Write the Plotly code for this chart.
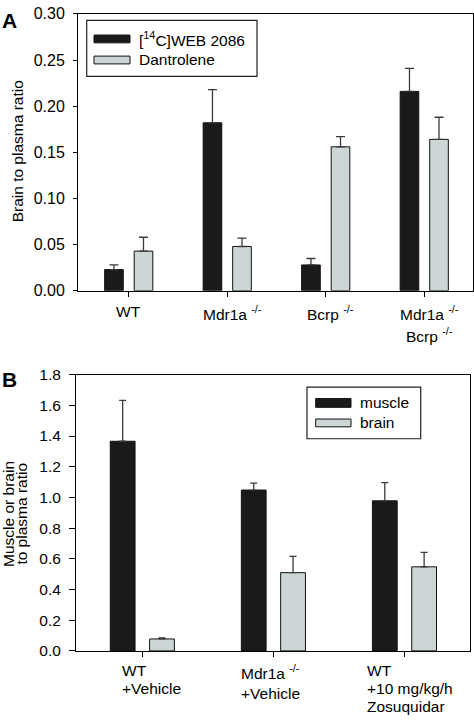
import plotly.graph_objects as go

# ---------------- data ----------------
# Panel A
cats_a = ["WT", "Mdr1a", "Bcrp", "Mdr1a/Bcrp"]
labels_a = ["WT", "Mdr1a <sup>-/-</sup>", "Bcrp <sup>-/-</sup>",
            "Mdr1a <sup>-/-</sup><br>Bcrp <sup>-/-</sup>"]
web2086 = [0.023, 0.182, 0.028, 0.216]
web2086_err = [0.005, 0.036, 0.007, 0.025]
dantrolene = [0.043, 0.048, 0.156, 0.164]
dantrolene_err = [0.015, 0.009, 0.011, 0.024]
yticks_a = [0.00, 0.05, 0.10, 0.15, 0.20, 0.25, 0.30]

# Panel B
cats_b = ["WT+Vehicle", "Mdr1a+Vehicle", "WT+Zosuquidar"]
labels_b = ["WT<br>+Vehicle", "Mdr1a <sup>-/-</sup><br>+Vehicle",
            "WT<br>+10 mg/kg/h<br>Zosuquidar"]
muscle = [1.366, 1.048, 0.978]
muscle_err = [0.267, 0.045, 0.119]
brain = [0.078, 0.510, 0.548]
brain_err = [0.006, 0.106, 0.094]
yticks_b = [0.0, 0.2, 0.4, 0.6, 0.8, 1.0, 1.2, 1.4, 1.6, 1.8]

# ---------------- style ----------------
W, H = 474, 723
FONT = "Liberation Sans, Arial, sans-serif"
FS = 15.5
BLACK = "#1a1a1a"
GREY = "#cdd6d6"
ERRC = "#3a3a3a"
label_shift_a = [0, 5, 5, 5]
label_shift_b = [-22, -34, -39]
LINE_STEP = 18.5


def px(x):
    return x / W


def py(y):
    return 1 - y / H


fig = go.Figure()


def add_bar(x, y, err, color, xa, ya, capw):
    fig.add_trace(go.Bar(
        x=x, y=y, xaxis=xa, yaxis=ya, showlegend=False,
        marker=dict(color=color, line=dict(color="#111111", width=1)),
        error_y=dict(type="data", array=err, arrayminus=[0] * len(err),
                     symmetric=False, color=ERRC, thickness=1.3, width=capw),
    ))


add_bar(cats_a, web2086, web2086_err, BLACK, "x", "y", 4.5)
add_bar(cats_a, dantrolene, dantrolene_err, GREY, "x", "y", 4.5)
add_bar(cats_b, muscle, muscle_err, BLACK, "x2", "y2", 3.5)
add_bar(cats_b, brain, brain_err, GREY, "x2", "y2", 3.5)

axis_common = dict(showline=True, linecolor="black", linewidth=1, mirror=True,
                   showgrid=False, zeroline=False, ticks="outside",
                   tickcolor="black", tickwidth=1)

fig.update_layout(
    width=W, height=H,
    margin=dict(l=0, r=0, t=0, b=0),
    paper_bgcolor="white", plot_bgcolor="white",
    font=dict(family=FONT, size=FS, color="black"),
    barmode="group", bargap=0.4, bargroupgap=0.37,
    showlegend=False,
    xaxis=dict(domain=[px(78), px(473)], range=[-0.515, 3.495],
               showticklabels=False, ticklen=5, anchor="y", **axis_common),
    yaxis=dict(domain=[py(289), py(5)], range=[0, 0.30], tickvals=yticks_a,
               tickformat=".2f", ticklen=4, tickfont=dict(size=16, family=FONT),
               ticklabelstandoff=5, anchor="x", **axis_common),
    xaxis2=dict(domain=[px(76), px(470)], range=[-0.506, 2.50],
                showticklabels=False, ticklen=5, anchor="y2", **axis_common),
    yaxis2=dict(domain=[py(658.3), py(375)], range=[0, 1.8], tickvals=yticks_b,
                tickformat=".1f", ticklen=6, tickfont=dict(size=FS, family=FONT),
                ticklabelstandoff=5, anchor="x2", **axis_common),
)

ann = []


def text(t, x, y, xref="paper", yref="paper", size=FS, **kw):
    d = dict(text=t, x=x, y=y, xref=xref, yref=yref, showarrow=False,
             font=dict(size=size, family=FONT, color="black"))
    d.update(kw)
    ann.append(d)


# panel letters
text("<b>A</b>", px(0), py(11.5), size=21, xanchor="left", yanchor="middle")
text("<b>B</b>", px(0), py(379.5), size=21, xanchor="left", yanchor="middle")
# y titles
text("Brain to plasma ratio", px(17.5), py(146.5), textangle=-90,
     xanchor="center", yanchor="middle")
text("Muscle or brain", px(8.3), py(517.5), textangle=-90,
     xanchor="center", yanchor="middle")
text("to plasma ratio", px(22.0), py(517.5), textangle=-90,
     xanchor="center", yanchor="middle")


def cat_labels(cats, labels, shifts, xref, top, anchor):
    for c, lab, s in zip(cats, labels, shifts):
        offset = 0.0
        for i, line in enumerate(lab.split("<br>")):
            text(line, c, py(top + i * LINE_STEP + offset), xref=xref,
                 xanchor=anchor, yanchor="top", align=anchor,
                 xshift=s)
            if "<sup>" in line:
                offset += 4.5


cat_labels(cats_a, labels_a, label_shift_a, "x", 299, "center")
cat_labels(cats_b, labels_b, label_shift_b, "x2", 668, "left")

shapes = []


def legend(box, items):
    x0, x1, y0, y1 = box
    shapes.append(dict(type="rect", xref="paper", yref="paper",
                       x0=px(x0), x1=px(x1), y0=py(y1), y1=py(y0),
                       line=dict(color="#222222", width=1.2),
                       fillcolor="white", layer="above"))
    for (sx0, sx1, yc, h, color, tx, t) in items:
        shapes.append(dict(type="rect", xref="paper", yref="paper",
                           x0=px(sx0), x1=px(sx1), y0=py(yc + h / 2),
                           y1=py(yc - h / 2), line=dict(color="#111111", width=1),
                           fillcolor=color, layer="above"))
        text(t, px(tx), py(yc), xanchor="left", yanchor="middle")


legend((86.7, 257, 11.7, 69),
       [(94, 130, 30.7, 8, BLACK, 137, "[<sup>14</sup>C]WEB 2086"),
        (94, 130, 52.3, 8, GREY, 137, "Dantrolene")])
legend((307, 420.7, 387.7, 440.7),
       [(315.7, 351, 404, 9, BLACK, 358, "muscle"),
        (315.7, 351, 424.5, 8, GREY, 358, "brain")])

fig.update_layout(annotations=ann, shapes=shapes)
fig.write_html("out.html",
               config={"displayModeBar": False},
               post_script="document.body.style.margin='0';"
                           "document.body.style.overflow='hidden';")
